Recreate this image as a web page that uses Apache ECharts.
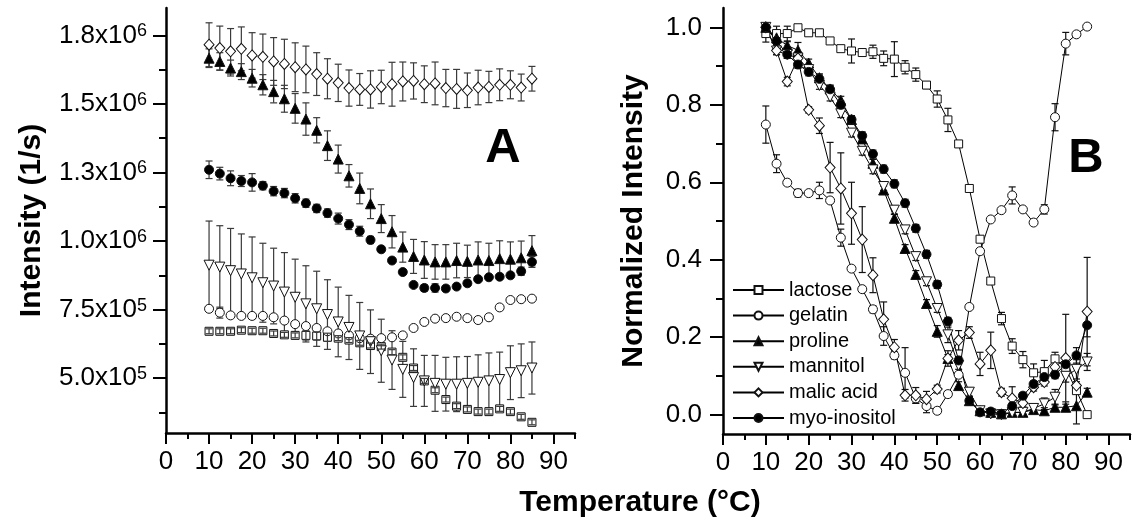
<!DOCTYPE html>
<html>
<head>
<meta charset="utf-8">
<script src="https://cdn.jsdelivr.net/npm/echarts@6/dist/echarts.min.js"></script>
<style>
  html, body { margin: 0; padding: 0; background: #fff; }
  #chart { width: 1133px; height: 524px; }
</style>
</head>
<body>
<div id="chart"></div>
<script>
const FONT = '"Liberation Sans", Arial, sans-serif';

// temperature steps (°C), shared by both panels
const temps = [10, 12.5, 15, 17.5, 20, 22.5, 25, 27.5, 30, 32.5, 35, 37.5, 40, 42.5, 45, 47.5,
  50, 52.5, 55, 57.5, 60, 62.5, 65, 67.5, 70, 72.5, 75, 77.5, 80, 82.5, 85];

const names = ['lactose', 'gelatin', 'proline', 'mannitol', 'malic acid', 'myo-inositol'];

// panel A: intensity, in units of 10^6 1/s
const lactoseA = [0.671, 0.671, 0.671, 0.675, 0.673, 0.673, 0.663, 0.658, 0.656, 0.656, 0.654, 0.649, 0.646, 0.639, 0.629, 0.619, 0.615, 0.595, 0.576, 0.537, 0.490, 0.456, 0.422, 0.398, 0.386, 0.378, 0.378, 0.388, 0.378, 0.359, 0.339];
const lactoseAErr = [0.009, 0.009, 0.009, 0.009, 0.009, 0.009, 0.009, 0.009, 0.009, 0.017, 0.015, 0.015, 0.009, 0.009, 0.009, 0.009, 0.009, 0.009, 0.009, 0.009, 0.009, 0.009, 0.009, 0.009, 0.009, 0.009, 0.009, 0.009, 0.009, 0.009, 0.009];
const gelatinA = [0.753, 0.739, 0.729, 0.727, 0.727, 0.727, 0.722, 0.710, 0.697, 0.690, 0.683, 0.671, 0.663, 0.656, 0.646, 0.644, 0.646, 0.649, 0.656, 0.683, 0.705, 0.717, 0.719, 0.724, 0.719, 0.712, 0.722, 0.758, 0.785, 0.788, 0.790];
const gelatinAErr = [0.007, 0.020, 0.007, 0.007, 0.007, 0.007, 0.007, 0.007, 0.007, 0.007, 0.007, 0.007, 0.007, 0.007, 0.007, 0.007, 0.007, 0.007, 0.007, 0.007, 0.007, 0.007, 0.007, 0.007, 0.007, 0.007, 0.007, 0.010, 0.007, 0.007, 0.007];
const prolineA = [1.667, 1.655, 1.631, 1.618, 1.594, 1.570, 1.545, 1.519, 1.484, 1.445, 1.404, 1.348, 1.299, 1.238, 1.192, 1.136, 1.082, 1.034, 0.978, 0.944, 0.931, 0.924, 0.924, 0.929, 0.926, 0.931, 0.929, 0.936, 0.934, 0.939, 0.965];
const prolineAErr = [0.034, 0.032, 0.029, 0.029, 0.032, 0.037, 0.041, 0.049, 0.054, 0.059, 0.046, 0.054, 0.051, 0.041, 0.056, 0.054, 0.051, 0.059, 0.055, 0.062, 0.067, 0.063, 0.063, 0.063, 0.059, 0.066, 0.063, 0.065, 0.063, 0.061, 0.055];
const mannitolA = [0.912, 0.905, 0.892, 0.880, 0.866, 0.848, 0.836, 0.814, 0.795, 0.771, 0.753, 0.732, 0.705, 0.685, 0.654, 0.633, 0.600, 0.566, 0.532, 0.502, 0.490, 0.481, 0.478, 0.478, 0.481, 0.485, 0.490, 0.495, 0.520, 0.527, 0.537];
const mannitolAErr = [0.161, 0.151, 0.154, 0.146, 0.149, 0.144, 0.138, 0.144, 0.139, 0.139, 0.137, 0.127, 0.127, 0.117, 0.122, 0.116, 0.115, 0.107, 0.102, 0.105, 0.093, 0.102, 0.098, 0.100, 0.098, 0.100, 0.102, 0.100, 0.098, 0.098, 0.095];
const malicA = [1.716, 1.704, 1.692, 1.701, 1.677, 1.672, 1.655, 1.646, 1.634, 1.626, 1.609, 1.592, 1.577, 1.558, 1.553, 1.553, 1.562, 1.572, 1.582, 1.584, 1.572, 1.575, 1.558, 1.555, 1.550, 1.560, 1.562, 1.570, 1.570, 1.560, 1.592];
const malicAErr = [0.080, 0.080, 0.083, 0.080, 0.083, 0.083, 0.087, 0.090, 0.089, 0.085, 0.078, 0.073, 0.068, 0.066, 0.058, 0.068, 0.061, 0.080, 0.071, 0.066, 0.067, 0.078, 0.068, 0.071, 0.063, 0.063, 0.057, 0.058, 0.051, 0.049, 0.045];
const myoA = [1.260, 1.246, 1.229, 1.219, 1.214, 1.202, 1.182, 1.175, 1.156, 1.138, 1.119, 1.102, 1.082, 1.060, 1.036, 1.004, 0.970, 0.929, 0.887, 0.840, 0.829, 0.829, 0.827, 0.834, 0.846, 0.861, 0.868, 0.870, 0.875, 0.890, 0.924];
const myoAErr = [0.032, 0.023, 0.027, 0.020, 0.032, 0.015, 0.017, 0.017, 0.017, 0.015, 0.015, 0.015, 0.020, 0.018, 0.018, 0.013, 0.010, 0.007, 0.007, 0.007, 0.012, 0.015, 0.010, 0.010, 0.010, 0.007, 0.007, 0.007, 0.010, 0.015, 0.020];

// panel B: normalized intensity
const lactoseB = [0.984, 0.984, 0.984, 0.999, 0.986, 0.986, 0.965, 0.945, 0.939, 0.935, 0.937, 0.920, 0.918, 0.897, 0.878, 0.851, 0.815, 0.761, 0.699, 0.584, 0.453, 0.345, 0.248, 0.177, 0.142, 0.108, 0.111, 0.144, 0.120, 0.062, 0.000];
const lactoseBErr = [0.022, 0.019, 0.019, 0.004, 0.004, 0.004, 0.004, 0.007, 0.031, 0.004, 0.017, 0.019, 0.045, 0.017, 0.017, 0.009, 0.021, 0.030, 0.007, 0.005, 0.005, 0.005, 0.016, 0.019, 0.021, 0.023, 0.029, 0.017, 0.017, 0.007, 0.004];
const gelatinB = [0.749, 0.648, 0.599, 0.572, 0.572, 0.579, 0.553, 0.457, 0.377, 0.324, 0.272, 0.203, 0.153, 0.108, 0.042, 0.022, 0.010, 0.053, 0.103, 0.278, 0.422, 0.504, 0.528, 0.566, 0.530, 0.496, 0.530, 0.768, 0.958, 0.982, 1.002];
const gelatinBErr = [0.048, 0.023, 0.007, 0.010, 0.004, 0.021, 0.007, 0.022, 0.007, 0.007, 0.009, 0.024, 0.009, 0.065, 0.013, 0.017, 0.007, 0.007, 0.005, 0.004, 0.004, 0.004, 0.004, 0.022, 0.004, 0.004, 0.012, 0.035, 0.029, 0.004, 0.004];
const prolineB = [1.000, 0.973, 0.953, 0.941, 0.908, 0.870, 0.841, 0.812, 0.762, 0.712, 0.649, 0.580, 0.507, 0.429, 0.362, 0.287, 0.215, 0.145, 0.075, 0.036, 0.010, 0.006, 0.002, 0.006, 0.006, 0.013, 0.010, 0.019, 0.019, 0.023, 0.058];
const prolineBErr = [0.010, 0.015, 0.010, 0.020, 0.010, 0.010, 0.010, 0.010, 0.010, 0.010, 0.010, 0.010, 0.010, 0.010, 0.010, 0.010, 0.015, 0.010, 0.010, 0.010, 0.008, 0.008, 0.008, 0.008, 0.008, 0.008, 0.008, 0.008, 0.008, 0.047, 0.010];
const mannitolB = [1.000, 0.939, 0.930, 0.921, 0.891, 0.850, 0.820, 0.777, 0.727, 0.680, 0.632, 0.589, 0.528, 0.477, 0.408, 0.343, 0.274, 0.206, 0.127, 0.058, 0.010, 0.002, 0.000, 0.005, 0.006, 0.016, 0.028, 0.045, 0.099, 0.117, 0.136];
const mannitolBErr = [0.010, 0.010, 0.010, 0.015, 0.010, 0.010, 0.010, 0.010, 0.010, 0.010, 0.010, 0.010, 0.010, 0.010, 0.010, 0.010, 0.010, 0.020, 0.010, 0.010, 0.008, 0.008, 0.008, 0.008, 0.008, 0.008, 0.015, 0.020, 0.015, 0.025, 0.022];
const malicB = [1.000, 0.940, 0.860, 0.920, 0.787, 0.746, 0.638, 0.584, 0.520, 0.452, 0.360, 0.246, 0.174, 0.050, 0.050, 0.040, 0.066, 0.145, 0.192, 0.212, 0.131, 0.166, 0.058, 0.042, 0.030, 0.071, 0.084, 0.123, 0.146, 0.075, 0.266];
const malicBErr = [0.005, 0.010, 0.011, 0.010, 0.008, 0.020, 0.065, 0.092, 0.080, 0.085, 0.045, 0.045, 0.020, 0.015, 0.020, 0.020, 0.010, 0.020, 0.025, 0.015, 0.030, 0.047, 0.010, 0.030, 0.010, 0.010, 0.010, 0.015, 0.113, 0.010, 0.140];
const myoB = [1.000, 0.965, 0.930, 0.904, 0.885, 0.867, 0.840, 0.800, 0.762, 0.720, 0.673, 0.634, 0.596, 0.546, 0.481, 0.414, 0.336, 0.241, 0.140, 0.036, 0.006, 0.008, 0.002, 0.022, 0.049, 0.079, 0.097, 0.103, 0.130, 0.153, 0.231];
const myoBErr = [0.005, 0.010, 0.010, 0.010, 0.010, 0.010, 0.010, 0.010, 0.010, 0.010, 0.010, 0.010, 0.010, 0.010, 0.010, 0.010, 0.010, 0.010, 0.010, 0.010, 0.008, 0.008, 0.008, 0.008, 0.008, 0.008, 0.010, 0.010, 0.015, 0.020, 0.030];

// tick positions
const xTicks = [0, 10, 20, 30, 40, 50, 60, 70, 80, 90];
const xMinorTicks = [5, 15, 25, 35, 45, 55, 65, 75, 85, 95];
const yTicksA = [0.5, 0.75, 1.0, 1.25, 1.5, 1.75];
const yMinorTicksA = [0.375, 0.625, 0.875, 1.125, 1.375, 1.625];
const yTicksB = [0, 0.2, 0.4, 0.6, 0.8, 1.0];
const yMinorTicksB = [0.1, 0.3, 0.5, 0.7, 0.9];

const dataA = [lactoseA, gelatinA, prolineA, mannitolA, malicA, myoA];
const errA = [lactoseAErr, gelatinAErr, prolineAErr, mannitolAErr, malicAErr, myoAErr];
const dataB = [lactoseB, gelatinB, prolineB, mannitolB, malicB, myoB];
const errB = [lactoseBErr, gelatinBErr, prolineBErr, mannitolBErr, malicBErr, myoBErr];

const markers = {
  'lactose': { symbol: 'rect', fill: '#fff', size: 8 },
  'gelatin': { symbol: 'circle', fill: '#fff', size: 9 },
  'proline': { symbol: 'triangle', fill: '#000', size: 10 },
  'mannitol': { symbol: 'triangle', rotate: 180, fill: '#fff', size: 10 },
  'malic acid': { symbol: 'diamond', fill: '#fff', size: [10, 11] },
  'myo-inositol': { symbol: 'circle', fill: '#000', size: 9 },
};

function sciLabel(v) {
  const real = v * 1e6;
  const exp = Math.floor(Math.log10(real) + 1e-9);
  const mant = (real / Math.pow(10, exp)).toFixed(1);
  return '{m|' + mant + 'x10}{e|' + exp + '}';
}

function errorSeries(name, values, errors, axisIdx, z, color) {
  return {
    type: 'custom',
    name: name + ' error',
    xAxisIndex: axisIdx,
    yAxisIndex: axisIdx,
    z: z,
    silent: true,
    data: temps.map((t, i) => [t, values[i], errors[i]]),
    renderItem: (params, api) => {
      const x = api.value(0), y = api.value(1), e = api.value(2);
      const top = api.coord([x, y + e]);
      const bot = api.coord([x, y - e]);
      const style = { stroke: color, lineWidth: 1.2, fill: null };
      const cap = 3.5;
      return {
        type: 'group',
        children: [
          { type: 'line', shape: { x1: top[0], y1: top[1], x2: bot[0], y2: bot[1] }, style },
          { type: 'line', shape: { x1: top[0] - cap, y1: top[1], x2: top[0] + cap, y2: top[1] }, style },
          { type: 'line', shape: { x1: bot[0] - cap, y1: bot[1], x2: bot[0] + cap, y2: bot[1] }, style },
        ],
      };
    },
  };
}

function markSeries(name, values, axisIdx, withLine) {
  const m = markers[name];
  return {
    type: withLine ? 'line' : 'scatter',
    name: withLine ? name : name + ' (A)',
    xAxisIndex: axisIdx,
    yAxisIndex: axisIdx,
    z: 3,
    data: temps.map((t, i) => [t, values[i]]),
    symbol: m.symbol,
    symbolSize: m.size,
    symbolRotate: m.rotate || 0,
    showAllSymbol: true,
    lineStyle: { color: '#000', width: 1 },
    itemStyle: { color: m.fill, borderColor: '#111', borderWidth: 1, opacity: 1 },
  };
}

const series = [];
names.forEach((name, k) => {
  // lactose squares in A show their bars through the marker
  series.push(errorSeries(name + ' A', dataA[k], errA[k], 0, name === 'lactose' ? 4 : 1, '#3a3a3a'));
  series.push(markSeries(name, dataA[k], 0, false));
});
names.forEach((name, k) => {
  series.push(errorSeries(name + ' B', dataB[k], errB[k], 2, 1, '#111'));
  series.push(markSeries(name, dataB[k], 2, true));
});

const axisLineStyle = { show: true, onZero: false, lineStyle: { color: '#000', width: 2.5 } };
const tickLabel = { color: '#000', fontSize: 26, fontFamily: FONT };
const titleStyle = { color: '#000', fontSize: 30, fontWeight: 'bold', fontFamily: FONT };

function xAxes(gridIndex) {
  return [
    {
      gridIndex, type: 'value', min: 0, max: 95, position: 'bottom',
      axisLine: axisLineStyle,
      axisTick: { length: 11, lineStyle: { color: '#000', width: 2 }, customValues: xTicks },
      axisLabel: { ...tickLabel, margin: 16, customValues: xTicks },
      splitLine: { show: false },
    },
    {
      gridIndex, type: 'value', min: 0, max: 95, position: 'bottom',
      axisLine: { show: false, onZero: false },
      axisTick: { length: 6, lineStyle: { color: '#000', width: 2 }, customValues: xMinorTicks },
      axisLabel: { show: false },
      splitLine: { show: false },
    },
  ];
}

const option = {
  animation: false,
  backgroundColor: '#fff',
  textStyle: { fontFamily: FONT },
  grid: [
    { left: 166, top: 8, width: 409, height: 425 },
    { left: 723, top: 8, width: 407, height: 426 },
  ],
  xAxis: [...xAxes(0), ...xAxes(1)],
  yAxis: [
    {
      gridIndex: 0, type: 'value', min: 0.3, max: 1.85, position: 'left',
      axisLine: axisLineStyle,
      axisTick: { length: 13, lineStyle: { color: '#000', width: 2 }, customValues: yTicksA },
      axisLabel: {
        customValues: yTicksA, margin: 19, formatter: sciLabel,
        rich: {
          m: { ...tickLabel },
          e: { color: '#000', fontSize: 18, fontFamily: FONT, verticalAlign: 'top' },
        },
      },
      splitLine: { show: false },
      name: 'Intensity (1/s)', nameLocation: 'middle', nameRotate: 90, nameGap: 119,
      nameTextStyle: titleStyle,
    },
    {
      gridIndex: 0, type: 'value', min: 0.3, max: 1.85, position: 'left',
      axisLine: { show: false, onZero: false },
      axisTick: { length: 7, lineStyle: { color: '#000', width: 2 }, customValues: yMinorTicksA },
      axisLabel: { show: false },
      splitLine: { show: false },
    },
    {
      gridIndex: 1, type: 'value', min: -0.05, max: 1.05, position: 'left',
      axisLine: axisLineStyle,
      axisTick: { length: 13, lineStyle: { color: '#000', width: 2 }, customValues: yTicksB },
      axisLabel: { ...tickLabel, margin: 21, customValues: yTicksB, formatter: (v) => v.toFixed(1) },
      splitLine: { show: false },
      name: 'Normalized Intensity', nameLocation: 'middle', nameRotate: 90, nameGap: 74,
      nameTextStyle: titleStyle,
    },
    {
      gridIndex: 1, type: 'value', min: -0.05, max: 1.05, position: 'left',
      axisLine: { show: false, onZero: false },
      axisTick: { length: 7, lineStyle: { color: '#000', width: 2 }, customValues: yMinorTicksB },
      axisLabel: { show: false },
      splitLine: { show: false },
    },
  ],
  legend: {
    data: names,
    orient: 'vertical',
    left: 727,
    top: 275,
    itemWidth: 51,
    itemHeight: 10,
    itemGap: 5.6,
    selectedMode: false,
    textStyle: { color: '#000', fontSize: 20, fontFamily: FONT, lineHeight: 20 },
  },
  graphic: [
    {
      type: 'text', x: 503, y: 148,
      style: { text: 'A', fontSize: 49, fontWeight: 'bold', fontFamily: FONT, fill: '#000', align: 'center', verticalAlign: 'middle' },
    },
    {
      type: 'text', x: 1086, y: 158,
      style: { text: 'B', fontSize: 49, fontWeight: 'bold', fontFamily: FONT, fill: '#000', align: 'center', verticalAlign: 'middle' },
    },
    {
      type: 'text', x: 640, y: 503,
      style: { text: 'Temperature (°C)', fontSize: 30, fontWeight: 'bold', fontFamily: FONT, fill: '#000', align: 'center', verticalAlign: 'middle' },
    },
  ],
  series,
};

const chart = echarts.init(document.getElementById('chart'));
chart.setOption(option);
window.addEventListener('resize', () => chart.resize());
</script>
</body>
</html>
